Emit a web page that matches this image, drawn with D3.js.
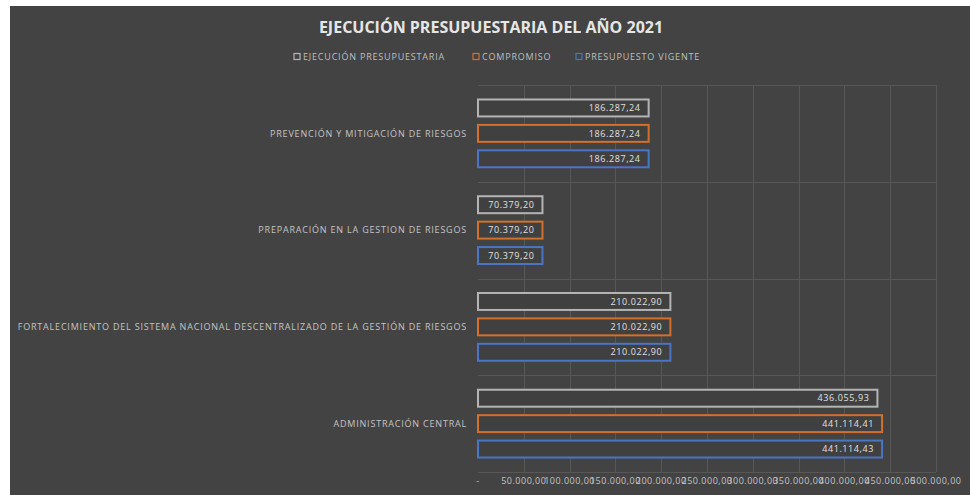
<!DOCTYPE html>
<html>
<head>
<meta charset="utf-8">
<script src="https://cdn.jsdelivr.net/npm/d3@7"></script>
<style>
  html, body { margin: 0; padding: 0; background: #fff; }
  svg { display: block; }
</style>
</head>
<body>
<script>
const categories = [
  "PREVENCIÓN Y MITIGACIÓN DE RIESGOS",
  "PREPARACIÓN EN LA GESTION DE RIESGOS",
  "FORTALECIMIENTO DEL SISTEMA NACIONAL DESCENTRALIZADO DE LA GESTIÓN DE RIESGOS",
  "ADMINISTRACIÓN CENTRAL"
];
const seriesNames = ["EJECUCIÓN  PRESUPUESTARIA", "COMPROMISO", "PRESUPUESTO VIGENTE"];
const ejecucion = [186287.24, 70379.20, 210022.90, 436055.93];
const compromiso = [186287.24, 70379.20, 210022.90, 441114.41];
const presupuesto = [186287.24, 70379.20, 210022.90, 441114.43];
const xTicks = [0, 50000, 100000, 150000, 200000, 250000, 300000, 350000, 400000, 450000, 500000];

const width = 970, height = 495;
const colors = ["#b4b4b4", "#d2702c", "#4a74c4"];
const seriesValues = [ejecucion, compromiso, presupuesto];

const locale = d3.formatLocale({ decimal: ",", thousands: ".", grouping: [3], currency: ["", ""] });
const fmt = locale.format(",.2f");

const svg = d3.select("body").append("svg")
    .attr("width", width)
    .attr("height", height)
    .attr("font-family", "'Open Sans', sans-serif");

// chart background
svg.append("rect")
    .attr("x", 10).attr("y", 6)
    .attr("width", width - 10).attr("height", height - 6)
    .attr("fill", "#434343");

const x = d3.scaleLinear().domain([0, 500000]).range([478, 936]);
const y = d3.scaleBand().domain(categories).range([85, 472]);
const ys = d3.scaleBand().domain(d3.range(3)).range([0, y.bandwidth()])
    .paddingInner(1 / 3).paddingOuter(0.57);

// grid
const grid = svg.append("g").attr("stroke", "#575757").attr("stroke-width", 1);
grid.selectAll("line.v")
  .data(xTicks.slice(1))
  .join("line")
    .attr("x1", d => Math.round(x(d)) + 0.5)
    .attr("x2", d => Math.round(x(d)) + 0.5)
    .attr("y1", y.range()[0])
    .attr("y2", y.range()[1]);
grid.selectAll("line.h")
  .data(categories.concat([null]))
  .join("line")
    .attr("x1", x(0))
    .attr("x2", x(500000))
    .attr("y1", d => Math.round(d ? y(d) : y.range()[1]) + 0.5)
    .attr("y2", d => Math.round(d ? y(d) : y.range()[1]) + 0.5);

// title
svg.append("text")
    .attr("x", 491).attr("y", 33)
    .attr("text-anchor", "middle")
    .attr("font-size", 16)
    .attr("font-weight", "bold")
    .attr("fill", "#e6e6e6")
    .text("EJECUCIÓN PRESUPUESTARIA DEL AÑO 2021");

// legend
const legendX = [294, 473, 576];
const legend = svg.append("g").selectAll("g")
  .data(seriesNames)
  .join("g")
    .attr("transform", (d, i) => `translate(${legendX[i]},57)`);
legend.append("rect")
    .attr("x", 0).attr("y", -3.5)
    .attr("width", 6).attr("height", 6)
    .attr("fill", "#434343")
    .attr("stroke", (d, i) => colors[i])
    .attr("stroke-width", 1.2);
legend.append("text")
    .attr("x", 9).attr("dy", "0.35em")
    .attr("font-size", 9)
    .attr("letter-spacing", 0.8)
    .attr("fill", "#bfbfbf")
    .text(d => d);

// category labels
svg.append("g").selectAll("text")
  .data(categories)
  .join("text")
    .attr("x", 467)
    .attr("y", d => y(d) + y.bandwidth() / 2)
    .attr("dy", "0.35em")
    .attr("text-anchor", "end")
    .attr("font-size", 9)
    .attr("letter-spacing", 0.8)
    .attr("fill", "#c4c4c4")
    .text(d => d);

// bars
const groups = svg.append("g").selectAll("g")
  .data(categories)
  .join("g")
    .attr("transform", d => `translate(0,${y(d)})`);

const bars = groups.selectAll("g")
  .data((d, ci) => seriesValues.map((vals, si) => ({ si, v: vals[ci] })))
  .join("g");

bars.append("rect")
    .attr("x", x(0))
    .attr("y", d => ys(d.si))
    .attr("width", d => x(d.v) - x(0))
    .attr("height", ys.bandwidth())
    .attr("fill", "#404040")
    .attr("stroke", d => colors[d.si])
    .attr("stroke-width", 2);

bars.append("text")
    .attr("x", d => x(d.v) - 8)
    .attr("y", d => ys(d.si) + ys.bandwidth() / 2)
    .attr("dy", "0.35em")
    .attr("text-anchor", "end")
    .attr("font-size", 9)
    .attr("letter-spacing", 0.6)
    .attr("fill", "#e0e0e0")
    .text(d => fmt(d.v));

// x axis labels
svg.append("g").selectAll("text")
  .data(xTicks)
  .join("text")
    .attr("x", d => x(d))
    .attr("y", 484)
    .attr("text-anchor", "middle")
    .attr("font-size", 9)
    .attr("letter-spacing", 0.5)
    .attr("fill", "#c4c4c4")
    .text(d => d === 0 ? "-" : fmt(d));
</script>
</body>
</html>
